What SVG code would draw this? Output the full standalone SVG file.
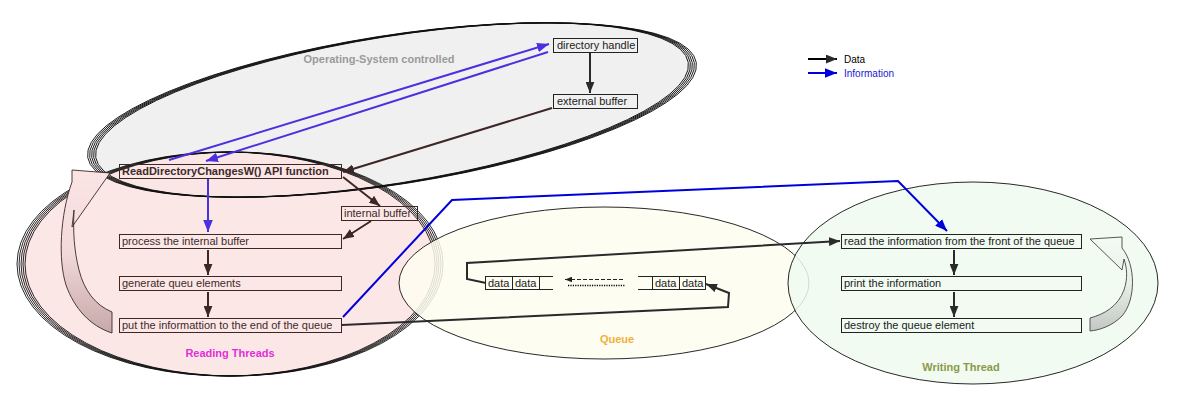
<svg xmlns="http://www.w3.org/2000/svg" width="1180" height="400" viewBox="0 0 1180 400">
<style>
  text { font-family: "Liberation Sans", Arial, sans-serif; font-size: 11px; fill: #222; }
  .lbl { font-weight: bold; text-anchor: middle; }
  .box { fill: none; stroke: #222; stroke-width: 1; }
  .rbox { fill: none; stroke: #3d2626; stroke-width: 1; }
  .rt { fill: #3d2a2a; }
  .ring { fill: none; stroke: #111; stroke-width: 0.9; }
  .data { stroke: #2a2a2a; stroke-width: 2; fill: none; marker-end: url(#ah); }
  .rdata { stroke: #3d2626; stroke-width: 2; fill: none; marker-end: url(#ahr); }
  .info { stroke: #4a30e0; stroke-width: 2; fill: none; marker-end: url(#ahv); }
  .blue { stroke: #0000dd; stroke-width: 2; fill: none; marker-end: url(#ahb); }
  .cell { fill: none; stroke: #222; stroke-width: 1; }
</style>
<defs>
  <marker id="ah" viewBox="0 0 10 8" refX="10" refY="4" markerWidth="11" markerHeight="9" markerUnits="userSpaceOnUse" orient="auto"><path d="M0,0 L10,4 L0,8 z" fill="#2a2a2a"/></marker>
  <marker id="ahr" viewBox="0 0 10 8" refX="10" refY="4" markerWidth="11" markerHeight="9" markerUnits="userSpaceOnUse" orient="auto"><path d="M0,0 L10,4 L0,8 z" fill="#3d2626"/></marker>
  <marker id="ahv" viewBox="0 0 10 8" refX="10" refY="4" markerWidth="12" markerHeight="10" markerUnits="userSpaceOnUse" orient="auto"><path d="M0,0 L10,4 L0,8 z" fill="#4a30e0"/></marker>
  <marker id="ahb" viewBox="0 0 10 8" refX="10" refY="4" markerWidth="12" markerHeight="10" markerUnits="userSpaceOnUse" orient="auto"><path d="M0,0 L10,4 L0,8 z" fill="#0000dd"/></marker>
  <marker id="ahs" viewBox="0 0 10 8" refX="0" refY="4" markerWidth="7" markerHeight="6" markerUnits="userSpaceOnUse" orient="auto"><path d="M10,0 L0,4 L10,8 z" fill="#222"/></marker>
  <linearGradient id="gl" x1="0" y1="0" x2="0" y2="1">
    <stop offset="0" stop-color="#fbe4e4"/><stop offset="0.5" stop-color="#f3dada"/><stop offset="1" stop-color="#c6a8a8"/>
  </linearGradient>
  <linearGradient id="gr" x1="0" y1="0" x2="0" y2="1">
    <stop offset="0" stop-color="#f4fbf4"/><stop offset="0.5" stop-color="#e8eee8"/><stop offset="1" stop-color="#c4c8c4"/>
  </linearGradient>
  <ellipse id="osE" cx="0" cy="0" rx="304" ry="74"/>
  <ellipse id="rdE" cx="0" cy="0" rx="209" ry="112"/>
</defs>

<!-- Operating-System controlled -->
<g id="os-area">
  <use href="#osE" transform="translate(392,110) rotate(-9)" fill="#f0f0f0"/>
</g>
<!-- Reading Threads area -->
<g id="reading-area">
  <use href="#rdE" transform="translate(230,264)" fill="#fce5e5" fill-opacity="0.92"/>
</g>
<g id="os-ring">
  <use href="#osE" class="ring" transform="translate(388,110) rotate(-9)"/>
  <use href="#osE" class="ring" transform="translate(390,110) rotate(-9)"/>
  <use href="#osE" class="ring" transform="translate(392,110) rotate(-9)"/>
  <use href="#osE" class="ring" transform="translate(394,110) rotate(-9)"/>
  <use href="#osE" class="ring" transform="translate(396,110) rotate(-9)"/>
</g>
<g id="reading-ring">
  <use href="#rdE" class="ring" transform="translate(226,264)"/>
  <use href="#rdE" class="ring" transform="translate(228,264)"/>
  <use href="#rdE" class="ring" transform="translate(230,264)"/>
  <use href="#rdE" class="ring" transform="translate(232,264)"/>
  <use href="#rdE" class="ring" transform="translate(234,264)"/>
</g>
<!-- Queue area -->
<g id="queue-area">
  <ellipse cx="604" cy="283" rx="205" ry="76" fill="#fefdf0" fill-opacity="0.85" stroke="#111" stroke-width="0.9"/>
</g>
<!-- Writing Thread area -->
<g id="writing-area">
  <ellipse cx="973" cy="283" rx="185" ry="101" fill="#eefaee" fill-opacity="0.85" stroke="#111" stroke-width="0.9"/>
</g>

<!-- group labels -->
<text class="lbl" x="379" y="63" style="fill:#9a9a9a">Operating-System controlled</text>
<text class="lbl" x="230" y="357" style="fill:#e030d8">Reading Threads</text>
<text class="lbl" x="617" y="343" style="fill:#f0b038">Queue</text>
<text class="lbl" x="961" y="371" style="fill:#8a9a48">Writing Thread</text>

<!-- curved block arrows -->
<g id="loop-reading">
  <path d="M110,173 L72,170 L72,182 C60,215 58,260 66,285 C74,308 90,326 112,333 L112,312 C95,305 84,290 79,270 C74,250 73,232 74,210 L72,227 Z" fill="url(#gl)" stroke="#3d2626" stroke-width="0.9"/>
</g>
<g id="loop-writing">
  <path d="M1090,239 L1122,237 L1122,248 C1136,265 1136,300 1122,316 C1112,326 1100,330 1090,331 L1090,318 C1105,314 1118,306 1124,290 C1128,278 1127,268 1124,259 L1122,270 Z" fill="url(#gr)" stroke="#444" stroke-width="0.9"/>
</g>

<!-- nodes -->
<g id="directory-handle"><rect class="box" x="553.5" y="38.5" width="84" height="14"/><text x="557" y="49">directory handle</text></g>
<g id="external-buffer"><rect class="box" x="553.5" y="94.5" width="84" height="14"/><text x="557" y="105">external buffer</text></g>
<g id="read-api"><rect class="rbox" x="119.5" y="164.5" width="222" height="14"/><text class="rt" x="122" y="175" style="font-weight:bold">ReadDirectoryChangesW() API function</text></g>
<g id="internal-buffer"><rect class="rbox" x="341.5" y="206.5" width="76" height="14"/><text class="rt" x="344" y="217">internal buffer</text></g>
<g id="process-buffer"><rect class="rbox" x="119.5" y="234.5" width="222" height="14"/><text class="rt" x="122" y="245">process the internal buffer</text></g>
<g id="generate-elements"><rect class="rbox" x="119.5" y="276.5" width="222" height="14"/><text class="rt" x="122" y="287">generate queu elements</text></g>
<g id="put-info"><rect class="rbox" x="119.5" y="318.5" width="222" height="14"/><text class="rt" x="122" y="329">put the informattion to the end of the queue</text></g>
<g id="read-front"><rect class="box" x="841.5" y="234.5" width="240" height="14"/><text x="844" y="245">read the information from the front of the queue</text></g>
<g id="print-info"><rect class="box" x="841.5" y="276.5" width="240" height="14"/><text x="844" y="287">print the information</text></g>
<g id="destroy-element"><rect class="box" x="841.5" y="318.5" width="240" height="14"/><text x="844" y="329">destroy the queue element</text></g>

<!-- queue contents -->
<g id="queue-cells">
  <rect class="cell" x="485.5" y="276.5" width="27" height="13"/>
  <rect class="cell" x="512.5" y="276.5" width="27" height="13"/>
  <path class="cell" d="M539.5,276.5 H553 M539.5,289.5 H553"/>
  <text x="488" y="287">data</text><text x="515" y="287">data</text>
  <path class="cell" d="M638,276.5 H652.5 M638,289.5 H652.5"/>
  <rect class="cell" x="652.5" y="276.5" width="27" height="13"/>
  <rect class="cell" x="679.5" y="276.5" width="26" height="13"/>
  <text x="655" y="287">data</text><text x="682" y="287">data</text>
  <path d="M565,279.5 H625" stroke="#222" stroke-width="1" stroke-dasharray="4,2" fill="none" marker-start="url(#ahs)"/>
  <path d="M568,285.5 H625" stroke="#000" stroke-width="1.6" stroke-dasharray="1.2,1.2" fill="none"/>
</g>

<!-- connectors -->
<g id="connectors">
  <path class="info" d="M169,160 L549,44"/>
  <path class="info" d="M548,52 L206,161"/>
  <path class="data" d="M590,53 V93"/>
  <path class="rdata" d="M552,108 L343,172"/>
  <path class="info" d="M208,179 V232"/>
  <path class="rdata" d="M343,177 L380,206"/>
  <path class="rdata" d="M371,221 L343,239"/>
  <path class="rdata" d="M208,250 V275"/>
  <path class="rdata" d="M208,292 V317"/>
  <path class="data" d="M342,325 L728,307 L729,293 L706,284"/>
  <path class="data" d="M486,283 L467,279 L467,263 L840,241"/>
  <path class="blue" d="M343,317 L452,200 L898,181 L947,231"/>
  <path class="data" d="M954,250 V275"/>
  <path class="data" d="M954,292 V317"/>
</g>

<!-- legend -->
<g id="legend">
  <path class="data" d="M808,59 H837" style="stroke:#000"/>
  <text x="844" y="63" style="font-size:10px;fill:#000">Data</text>
  <path class="blue" d="M808,73 H837"/>
  <text x="844" y="77" style="font-size:10px;fill:#1a1ad0">Information</text>
</g>
</svg>
